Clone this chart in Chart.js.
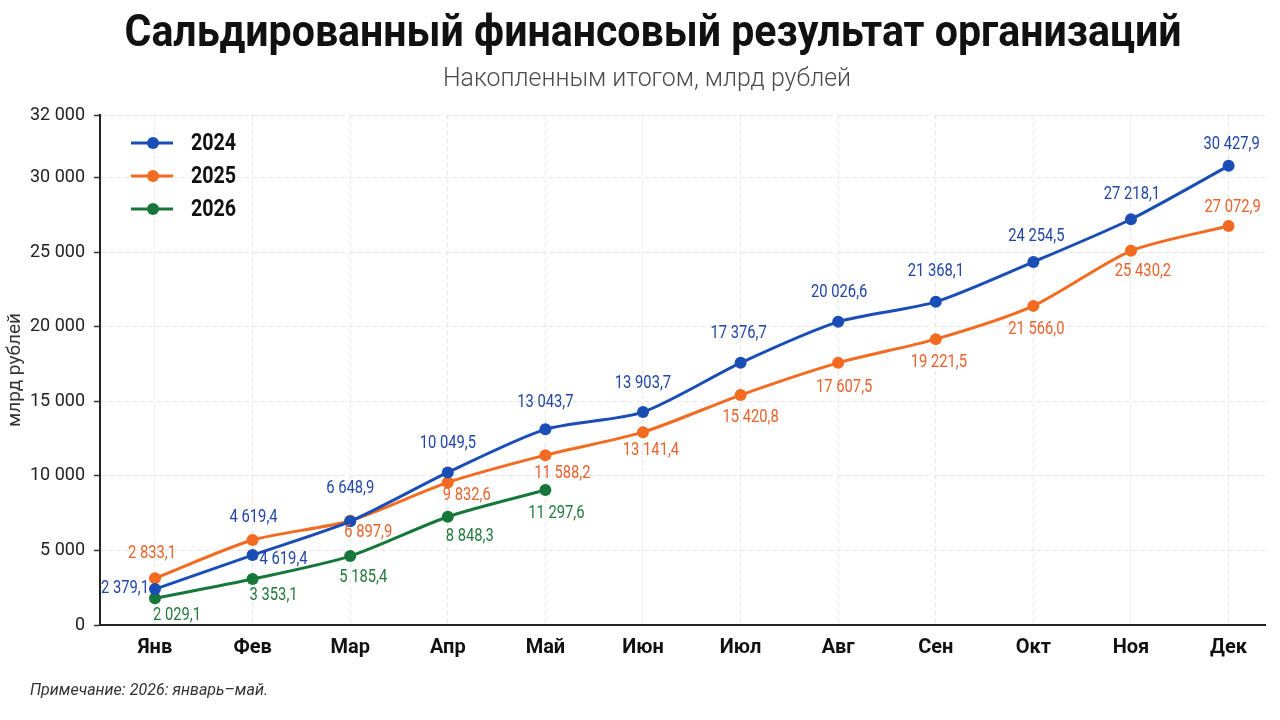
<!DOCTYPE html>
<html lang="ru">
<head>
<meta charset="utf-8">
<title>Сальдированный финансовый результат организаций</title>
<script src="https://cdn.jsdelivr.net/npm/chart.js@4.4.1/dist/chart.umd.min.js"></script>
<style>
  html, body { margin: 0; padding: 0; background: #ffffff; }
  canvas { display: block; }
</style>
</head>
<body>
<canvas id="myChart" width="1280" height="720"></canvas>
<script>
'use strict';

// ******* DATA *******
let months = ['Янв', 'Фев', 'Мар', 'Апр', 'Май', 'Июн', 'Июл', 'Авг', 'Сен', 'Окт', 'Ноя', 'Дек'];
let seriesNames = ['2024', '2025', '2026'];

// point heights, млрд рублей
let values2024 = [2410, 4690, 6950, 10230, 13120, 14280, 17580, 20330, 21670, 24350, 27210, 30790];
let values2025 = [3130, 5700, 6990, 9560, 11390, 12930, 15420, 17580, 19170, 21400, 25090, 26760];
let values2026 = [1790, 3080, 4620, 7260, 9050];

// the printed value labels, as they appear in the picture
let labels2024 = ['2 379,1', '4 619,4', '6 648,9', '10 049,5', '13 043,7', '13 903,7', '17 376,7', '20 026,6', '21 368,1', '24 254,5', '27 218,1', '30 427,9'];
let labels2025 = ['2 833,1', '4 619,4', '6 897,9', '9 832,6', '11 588,2', '13 141,4', '15 420,8', '17 607,5', '19 221,5', '21 566,0', '25 430,2', '27 072,9'];
let labels2026 = ['2 029,1', '3 353,1', '5 185,4', '8 848,3', '11 297,6'];

let yTickValues = [0, 5000, 10000, 15000, 20000, 25000, 30000];
let yTickLabels = ['0', '5 000', '10 000', '15 000', '20 000', '25 000', '30 000'];
let yTopLabel = '32 000';
let yMax = 34200;

// ******* STYLE *******
let lineColors = ['#1a4db5', '#f36b21', '#17773b'];
let textColors = ['#2146a8', '#e9622b', '#23793c'];
let fontName = 'Roboto, "Liberation Sans", sans-serif';

// label offsets from the point centre [dx, dy]
let offsets2024 = [[-30, -1], [31, 4], [0, -33], [0, -29], [0, -27], [0, -29], [-2, -29], [1, -29], [0, -30], [3, -25], [1, -25], [3, -21]];
let offsets2025 = [[-3, -25], [1, -23], [18, 12], [19, 13], [17, 18], [8, 18], [10, 22], [6, 25], [3, 23], [3, 24], [12, 21], [4, -18]];
let offsets2026 = [[22, 17], [21, 16], [13, 21], [22, 20], [11, 23]];

let allLabels = [labels2024, labels2025, labels2026];
let allOffsets = [offsets2024, offsets2025, offsets2026];
// the 2025 February label is printed in blue in the picture
let labelColorFix = { '1-1': textColors[0] };

// ****** HELPER FUNCTIONS ******
function toPoints(values) {
  return values.map((v, i) => ({ x: i, y: v }));
}

function drawText(ctx, text, x, y, font, color, align, scaleX, fitWidth) {
  ctx.save();
  ctx.font = font;
  ctx.fillStyle = color;
  ctx.textBaseline = 'alphabetic';
  ctx.textAlign = 'left';
  let w = ctx.measureText(text).width;
  let sx = fitWidth ? fitWidth / w : scaleX;
  let sw = w * sx;
  let left = align === 'center' ? x - sw / 2 : (align === 'right' ? x - sw : x);
  ctx.translate(left, y);
  ctx.scale(sx, 1);
  ctx.fillText(text, 0, 0);
  ctx.restore();
}

function drawMiddle(ctx, text, x, y, font, color, align, scaleX) {
  ctx.save();
  ctx.font = font;
  ctx.fillStyle = color;
  ctx.textBaseline = 'middle';
  ctx.textAlign = 'left';
  let sw = ctx.measureText(text).width * scaleX;
  let left = align === 'center' ? x - sw / 2 : (align === 'right' ? x - sw : x);
  ctx.translate(left, y);
  ctx.scale(scaleX, 1);
  ctx.fillText(text, 0, 0);
  ctx.restore();
}

// ****** PLUGINS ******
let headerPlugin = {
  id: 'header',
  afterDraw(chart) {
    let ctx = chart.ctx;
    drawText(ctx, 'Сальдированный финансовый результат организаций', 653, 46,
      'bold 44px ' + fontName, '#111111', 'center', 1, 1057);
    drawText(ctx, 'Накопленным итогом, млрд рублей', 647, 86,
      '300 25px ' + fontName, '#4a4a4a', 'center', 1, 408);
    drawText(ctx, 'Примечание: 2026: январь\u2013май.', 30, 695,
      'italic 17px ' + fontName, '#333333', 'left', 1, 238);
  }
};

let legendPlugin = {
  id: 'customLegend',
  afterDraw(chart) {
    let ctx = chart.ctx;
    let rows = [143, 176, 209];
    seriesNames.forEach((name, i) => {
      let y = rows[i];
      ctx.save();
      ctx.strokeStyle = lineColors[i];
      ctx.lineWidth = 3;
      ctx.beginPath();
      ctx.moveTo(131, y);
      ctx.lineTo(173, y);
      ctx.stroke();
      ctx.fillStyle = lineColors[i];
      ctx.beginPath();
      ctx.arc(153, y, 6, 0, Math.PI * 2);
      ctx.fill();
      ctx.restore();
      drawMiddle(ctx, name, 191, y + 1, 'bold 24px ' + fontName, '#111111', 'left', 0.82);
    });
  }
};

let pointLabelPlugin = {
  id: 'pointLabels',
  afterDatasetsDraw(chart) {
    let ctx = chart.ctx;
    chart.data.datasets.forEach((ds, d) => {
      let meta = chart.getDatasetMeta(d);
      meta.data.forEach((pt, i) => {
        let text = allLabels[d][i];
        let off = allOffsets[d][i];
        let color = labelColorFix[d + '-' + i] || textColors[d];
        drawMiddle(ctx, text, pt.x + off[0], pt.y + off[1], '18px ' + fontName, color, 'center', 0.82);
      });
    });
  }
};

// ****** CHART ******
Chart.defaults.font.family = fontName;

let datasets = [values2024, values2025, values2026].map((vals, i) => ({
  label: seriesNames[i],
  data: toPoints(vals),
  borderColor: lineColors[i],
  backgroundColor: lineColors[i],
  borderWidth: 3,
  pointRadius: 6,
  pointHoverRadius: 6,
  pointBorderWidth: 0,
  tension: 0.25
}));

const ctx = document.getElementById('myChart').getContext('2d');
const myChart = new Chart(ctx, {
  type: 'line',
  data: { datasets: datasets },
  options: {
    responsive: false,
    animation: false,
    layout: { padding: { top: 115, right: 15, bottom: 0, left: 0 } },
    plugins: {
      legend: { display: false },
      tooltip: { enabled: false }
    },
    scales: {
      x: {
        type: 'linear',
        min: -0.5635,
        max: 11.373,
        afterBuildTicks(scale) {
          scale.ticks = months.map((m, i) => ({ value: i }));
        },
        afterFit(scale) {
          scale.height = 95;
        },
        ticks: {
          padding: 11,
          color: '#111111',
          font: { size: 20, weight: 'bold' },
          callback(value) {
            return months[value];
          }
        },
        grid: {
          color: '#e4e4e4',
          lineWidth: 1,
          drawTicks: false
        },
        border: { display: true, color: '#222222', width: 2, dash: [4, 4] }
      },
      y: {
        min: 0,
        max: yMax,
        afterBuildTicks(scale) {
          scale.ticks = yTickValues.map(v => ({ value: v })).concat([{ value: yMax }]);
        },
        afterFit(scale) {
          scale.width = 100;
        },
        ticks: {
          padding: 9,
          color: '#222222',
          font: { size: 18 },
          callback(value, index) {
            return index < yTickLabels.length ? yTickLabels[index] : yTopLabel;
          }
        },
        grid: {
          color: '#e4e4e4',
          lineWidth: 1,
          tickLength: 6,
          tickColor: '#333333',
          tickWidth: 1.5
        },
        border: { display: true, color: '#222222', width: 2, dash: [4, 4] },
        title: {
          display: true,
          text: 'млрд рублей',
          color: '#333333',
          font: { size: 19 },
          padding: { top: 4, bottom: 0 }
        }
      }
    }
  },
  plugins: [pointLabelPlugin, legendPlugin, headerPlugin]
});
</script>
</body>
</html>
